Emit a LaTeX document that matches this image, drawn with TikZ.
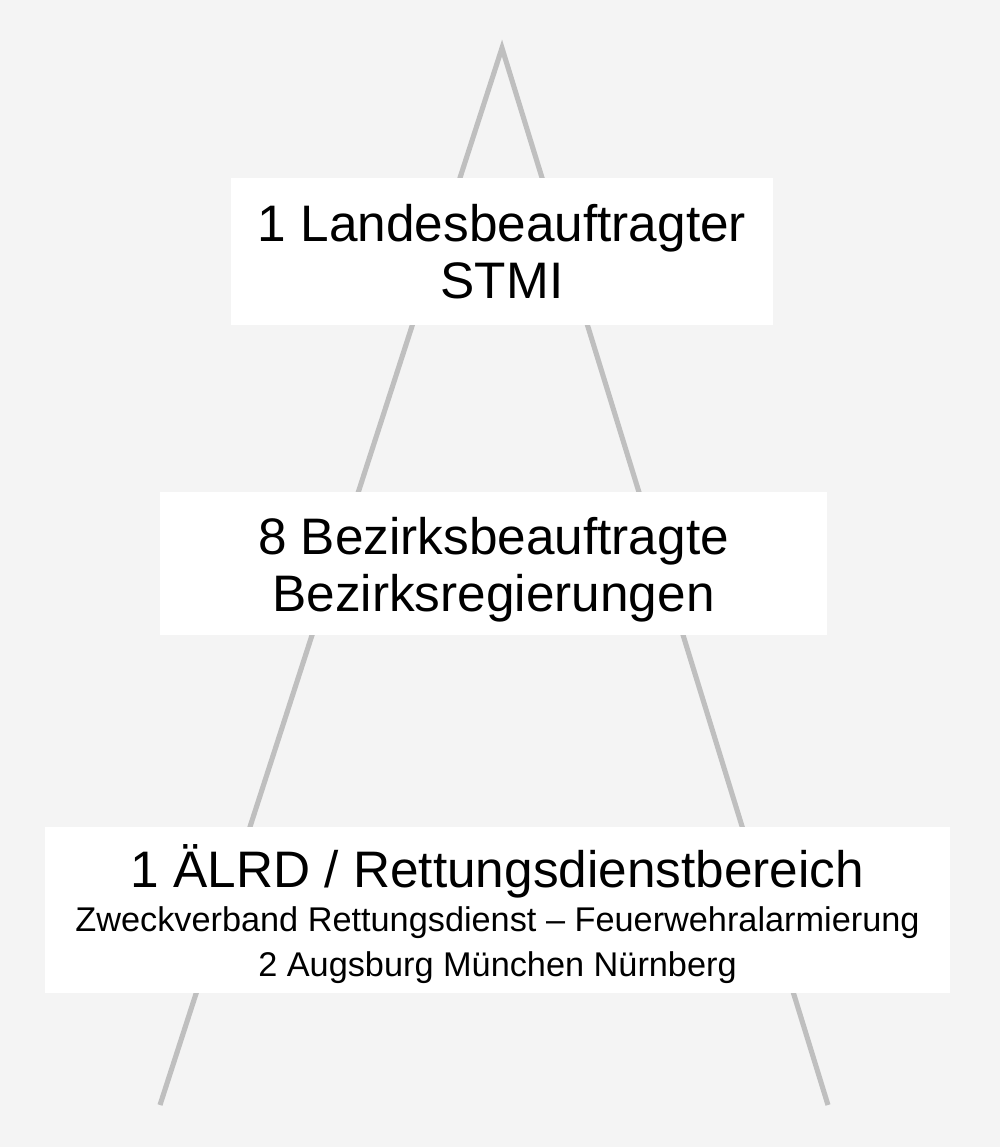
\documentclass[tikz,border=0pt]{standalone}
\usepackage{fontspec}
\setmainfont{Liberation Sans}
\definecolor{bggray}{HTML}{F4F4F4}
\definecolor{leggray}{HTML}{BFBFBF}

\begin{document}
\begin{tikzpicture}[x=0.01cm,y=-0.01cm]
\tikzstyle{every node}=[inner sep=0pt,align=center,text=black,font=\fontsize{14.6}{16.2}\selectfont];
\tikzstyle{levelbox}=[fill=white,draw=none];
\tikzstyle{leg}=[draw=leggray,line width=1.45pt,line join=miter];
\fill[bggray] (0,0) rectangle (1000,1147);
\useasboundingbox (0,0) rectangle (1000,1147);

\coordinate (apex) at (502,48);
\coordinate (footL) at (160,1105);
\coordinate (footR) at (828,1105);
\draw[leg] (footL)-- (apex)-- (footR);

\node[levelbox,minimum width=5.42cm,minimum height=1.47cm](land) at(502,251.5){};
\node at(land){1 Landesbeauftragter\\STMI};

\node[levelbox,minimum width=6.67cm,minimum height=1.43cm](bezirk) at(493.5,563.5){};
\node[yshift=-0.06cm] at(bezirk){8 Bezirksbeauftragte\\Bezirksregierungen};

\node[levelbox,minimum width=9.05cm,minimum height=1.66cm](aelrd) at(497.5,910){};
\node[yshift=-0.04cm] at(aelrd){1 ÄLRD / Rettungsdienstbereich\\[-3.7pt]
{\fontsize{9.75}{12.2}\selectfont Zweckverband Rettungsdienst – Feuerwehralarmierung}\\[-3.6pt]
{\fontsize{9.75}{12.2}\selectfont 2 Augsburg München Nürnberg}};

\end{tikzpicture}
\end{document}
